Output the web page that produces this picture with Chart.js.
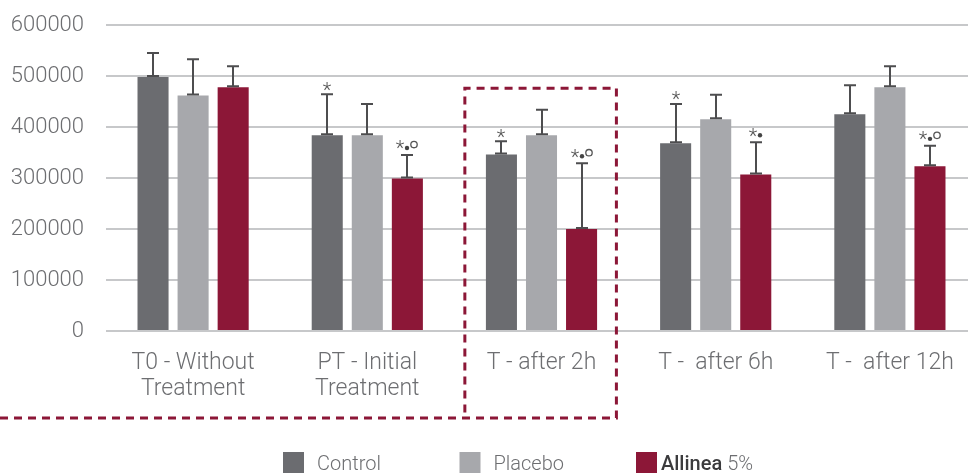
<!DOCTYPE html>
<html>
<head>
<meta charset="utf-8">
<script src="https://cdn.jsdelivr.net/npm/chart.js@4.4.1/dist/chart.umd.min.js"></script>
<style>
  html, body { margin:0; padding:0; background:#fff; overflow:hidden; }
  #wrap { position:relative; width:977px; height:473px; }
</style>
</head>
<body>
<div id="wrap"><canvas id="chart"></canvas></div>
<script>
// data
const categories = [['T0 - Without','Treatment'], ['PT - Initial','Treatment'], 'T - after 2h', 'T -  after 6h', 'T -  after 12h'];
const seriesNames = ['Control', 'Placebo', 'Allinea 5%'];
const controlValues = [498000, 384000, 346000, 368000, 425000];
const placeboValues = [462000, 384000, 384000, 415000, 478000];
const allineaValues = [478000, 299000, 200000, 307000, 323000];
const controlErrTop = [545000, 464000, 372000, 445000, 482000];
const placeboErrTop = [533000, 445000, 434000, 463000, 519000];
const allineaErrTop = [519000, 345000, 329000, 370000, 363000];
const controlMarks = ['', '*', '*', '*', ''];
const placeboMarks = ['', '', '', '', ''];
const allineaMarks = ['', '*•o', '*•o', '*•', '*•o'];
const yTicks = [0, 100000, 200000, 300000, 400000, 500000, 600000];

const colors = ['#6b6c70', '#a7a8ac', '#8c1737'];
const textGray = '#6d6e71';
const FONT = 'Roboto';

function drawMark(ctx, x, yErr, str){
  if(!str) return;
  const parts = str.split('');
  const w = { '*': 8, '•': 6, 'o': 8 };
  const total = parts.reduce((s,p)=> s + w[p], 0);
  const cy = yErr - (parts.length > 1 ? 10.5 : 8.5);
  let cx = x - total/2;
  ctx.save();
  parts.forEach(p=>{
    const mid = cx + w[p]/2;
    if(p === '*'){
      ctx.fillStyle = '#555';
      ctx.font = `300 20px ${FONT}`;
      ctx.textAlign = 'center';
      ctx.textBaseline = 'alphabetic';
      ctx.fillText('*', mid, cy + 10.8);
    } else if(p === '•'){
      ctx.fillStyle = '#444';
      ctx.beginPath(); ctx.arc(mid, cy + 3.5, 2.2, 0, Math.PI*2); ctx.fill();
    } else {
      ctx.strokeStyle = '#555'; ctx.lineWidth = 1.3;
      ctx.beginPath(); ctx.arc(mid, cy, 3.2, 0, Math.PI*2); ctx.stroke();
    }
    cx += w[p];
  });
  ctx.restore();
}

const errorBars = {
  id: 'errorBars',
  afterDatasetsDraw(chart){
    const { ctx } = chart;
    const yScale = chart.scales.y;
    ctx.save();
    ctx.strokeStyle = '#4d4d4f';
    ctx.lineWidth = 2;
    chart.data.datasets.forEach((ds, i)=>{
      chart.getDatasetMeta(i).data.forEach((bar, j)=>{
        const x = Math.round(bar.x);
        const y0 = bar.y;
        const y1 = yScale.getPixelForValue(ds.errTop[j]);
        ctx.beginPath();
        ctx.moveTo(x, y0); ctx.lineTo(x, y1);
        ctx.moveTo(x - 6, y1); ctx.lineTo(x + 6, y1);
        ctx.moveTo(x - 6, y0 - 1); ctx.lineTo(x + 6, y0 - 1);
        ctx.stroke();
        drawMark(ctx, x, y1, ds.marks[j]);
      });
    });
    ctx.restore();
  }
};

const highlight = {
  id: 'highlight',
  afterDraw(chart){
    const { ctx, chartArea } = chart;
    const xs = chart.scales.x, ys = chart.scales.y;
    const half = (xs.getPixelForValue(1) - xs.getPixelForValue(0)) / 2;
    const c = xs.getPixelForValue(2);
    const left = c - half*0.88, right = c + half*0.86;
    const top = ys.getPixelForValue(476000);
    const bottom = chartArea.bottom + 87;
    ctx.save();
    ctx.strokeStyle = '#8c1737';
    ctx.lineWidth = 3;
    ctx.setLineDash([8, 6]);
    ctx.beginPath();
    ctx.moveTo(0, bottom); ctx.lineTo(right, bottom);
    ctx.lineTo(right, top); ctx.lineTo(left, top); ctx.lineTo(left, bottom);
    ctx.stroke();
    ctx.restore();
  }
};

const bottomLegend = {
  id: 'bottomLegend',
  afterDraw(chart){
    const { ctx } = chart;
    const startX = 283, step = 176.5, sqTop = 452, sq = 21, ty = 465;
    ctx.save();
    ctx.textBaseline = 'middle';
    ctx.textAlign = 'left';
    seriesNames.forEach((name, i)=>{
      const x = startX + i*step;
      ctx.fillStyle = colors[i];
      ctx.fillRect(x, sqTop, sq, sq + 2);
      if(i < 2){
        ctx.fillStyle = textGray;
        ctx.font = `300 20px ${FONT}`;
        ctx.fillText(name, x + sq + 13, ty);
      } else {
        const [a, b] = name.split(' ');
        ctx.fillStyle = '#3b3b3d';
        ctx.font = `500 20px ${FONT}`;
        ctx.fillText(a, x + sq + 4, ty);
        const wa = ctx.measureText(a + ' ').width;
        ctx.fillStyle = textGray;
        ctx.font = `300 20px ${FONT}`;
        ctx.fillText(b, x + sq + 4 + wa, ty);
      }
    });
    ctx.restore();
  }
};

const datasets = [
  { label: seriesNames[0], data: controlValues, errTop: controlErrTop, marks: controlMarks, backgroundColor: colors[0] },
  { label: seriesNames[1], data: placeboValues, errTop: placeboErrTop, marks: placeboMarks, backgroundColor: colors[1] },
  { label: seriesNames[2], data: allineaValues, errTop: allineaErrTop, marks: allineaMarks, backgroundColor: colors[2] }
];

new Chart(document.getElementById('chart').getContext('2d'), {
  type: 'bar',
  data: { labels: categories, datasets },
  options: {
    responsive: true, maintainAspectRatio: false, animation: false,
    datasets: { bar: { categoryPercentage: 0.69, barPercentage: 0.775, borderWidth: 0 } },
    layout: { padding: { top: 25, left: 0, right: 0, bottom: 0 } },
    scales: {
      x: {
        grid: { display: false },
        border: { display: false },
        ticks: { color: textGray, padding: 12, maxRotation: 0, autoSkip: false,
                 font: { family: FONT, size: 23, weight: '300', lineHeight: 1.1 } },
        afterFit: (s)=>{ s.height = 142; }
      },
      y: {
        min: 0, max: 600000,
        afterBuildTicks: (s)=>{ s.ticks = yTicks.map(v=>({ value: v })); },
        grid: { color: '#c7c8ca', lineWidth: 2, drawTicks: false },
        border: { display: false },
        ticks: { color: textGray, padding: 22, callback: (v)=> String(v),
                 font: { family: FONT, size: 22, weight: '300' } },
        afterFit: (s)=>{ s.width = 106; s.paddingTop = 0; }
      }
    },
    plugins: { legend: { display: false }, tooltip: { enabled: false } }
  },
  plugins: [errorBars, highlight, bottomLegend]
});
</script>
</body>
</html>
